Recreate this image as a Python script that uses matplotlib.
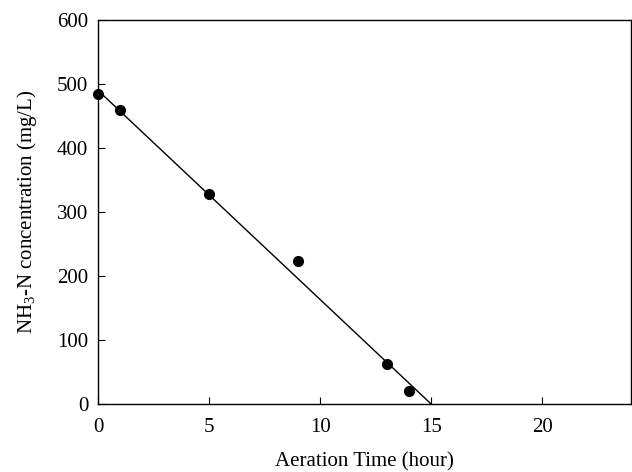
import matplotlib
matplotlib.use("Agg")
import matplotlib.pyplot as plt

time_h = [0, 1, 5, 9, 13, 14]
nh3_conc = [484, 459, 328, 224, 63, 21]
fit_x = [0, 15]
fit_y = [490, 0]

plt.rcParams['font.family'] = ['Liberation Serif', 'DejaVu Serif']
plt.rcParams['mathtext.fontset'] = 'custom'
plt.rcParams['mathtext.rm'] = 'Liberation Serif'

fig = plt.figure(figsize=(6.32, 4.72), dpi=100)
ax = fig.add_axes([98/632, 68/472, 533/632, 384/472])
ax.plot(fit_x, fit_y, color='black', lw=1)
ax.plot(time_h, nh3_conc, 'o', color='black', ms=7, clip_on=False, zorder=3)
ax.set_xlim(0, 24)
ax.set_ylim(0, 600)
ax.set_xticks([0, 5, 10, 15, 20])
ax.set_yticks([0, 100, 200, 300, 400, 500, 600])
ax.tick_params(direction='in', labelsize=15, length=5, top=False, right=False)
ax.tick_params(axis='y', pad=7)
ax.tick_params(axis='x', pad=10)
for s in ax.spines.values():
    s.set_linewidth(1)
ax.set_xlabel('Aeration Time (hour)', fontsize=15, labelpad=11)
ax.set_ylabel(r'NH$_3$-N concentration (mg/L)', fontsize=15, labelpad=13)
fig.savefig('out.png', dpi=100)
